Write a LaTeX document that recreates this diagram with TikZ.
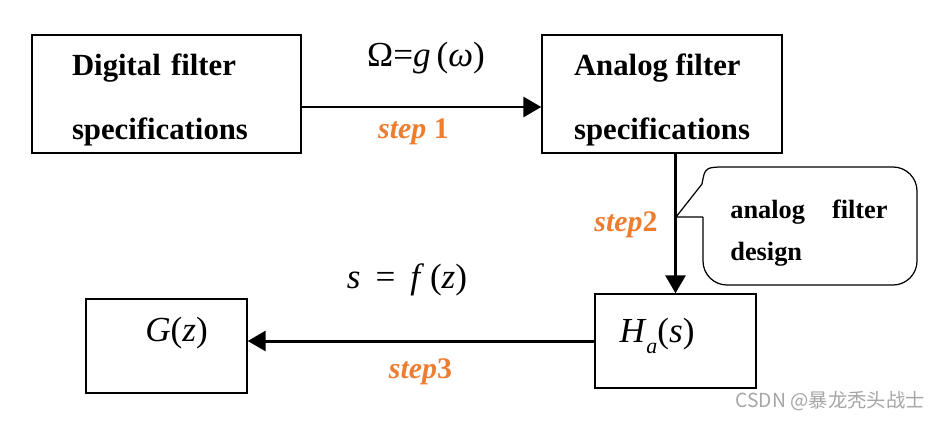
\documentclass[tikz,border=0pt]{standalone}
\usepackage{fontspec}
\setmainfont{Liberation Serif}
\newfontfamily\cjkfont{Noto Sans CJK SC}
\usetikzlibrary{arrows.meta}
\definecolor{steporange}{RGB}{237,125,49}
\definecolor{markgray}{RGB}{165,165,165}
\tikzset{
	specbox/.style={draw, line width=0.8pt, inner sep=0pt, align=left, minimum height=2.36cm, font=\fontsize{17.5}{36.3}\selectfont\bfseries},
	resbox/.style={draw, line width=0.8pt, minimum width=3.22cm, minimum height=1.88cm},
	flow/.style={line width=1.7pt, -{Triangle[length=0.36cm,width=0.4cm]}},
	steplbl/.style={text=steporange, font=\fontsize{17}{20}\selectfont\bfseries},
	mathlbl/.style={font=\fontsize{20}{23}\selectfont},
}
\begin{document}
\begin{tikzpicture}[x=0.02cm, y=-0.02cm]
	\useasboundingbox (0,0) rectangle (940,420);
	\node[specbox, minimum width=5.38cm, text width=3.78cm] (digspec) at (166.5,94) {\rule{0pt}{19pt}Digital filter\\specifications};
	\node[specbox, minimum width=4.8cm] (anaspec) at (662,94) {\rule{0pt}{19pt}Analog filter\\specifications};
	\node[resbox] (ha) at (675.5,341) {};
	\node[resbox] (gz) at (166.5,346) {};
	\node[mathlbl] (hatxt) at (657,336) {\textit{H}\raisebox{-0.3em}{\fontsize{12.5}{12.5}\selectfont\textit{a}}(\textit{s})};
	\node[mathlbl] (gtxt) at (176.5,333) {\textit{G}(\textit{z})};
	
	\draw[flow] ([yshift=-0.26cm]digspec.east) -- ([yshift=-0.26cm]anaspec.west);
	\draw[flow] (ha.north |- anaspec.south) -- (ha.north);
	\draw[flow] (ha.west) -- (ha.west -| gz.east);
	
	\node[mathlbl] (omg) at (426,58) {Ω=\textit{g}\,(\textit{ω})};
	\node[steplbl] (st1) at (413.5,132) {\textit{step} 1};
	\node[steplbl] (st2) at (626,225) {\textit{step}2};
	\node[mathlbl] (sfz) at (407,280) {\textit{s}\hspace{0.3cm}=\hspace{0.3cm}\textit{f}\,(\textit{z})};
	\node[steplbl] (st3) at (420.5,372) {\textit{step}3};
	
	\coordinate (tip) at (676,217);
	\draw[line width=0.7pt] (703,217) -- (tip) -- (702,184) .. controls (705,167) .. (728,167) [rounded corners=0.48cm] -- (917,167) -- (917,285) -- (703,285) -- (703,217);
	\node[inner sep=0pt, align=left, anchor=west, font=\fontsize{15}{24}\selectfont\bfseries] (designtxt) at (730,233) {analog\hspace{0.54cm}filter\\design};
	
	\node[text=markgray, anchor=east, inner sep=0pt, font=\cjkfont\fontsize{11}{12}\selectfont] (mark) at (925,401) {CSDN @暴龙秃头战士};
\end{tikzpicture}
\end{document}
